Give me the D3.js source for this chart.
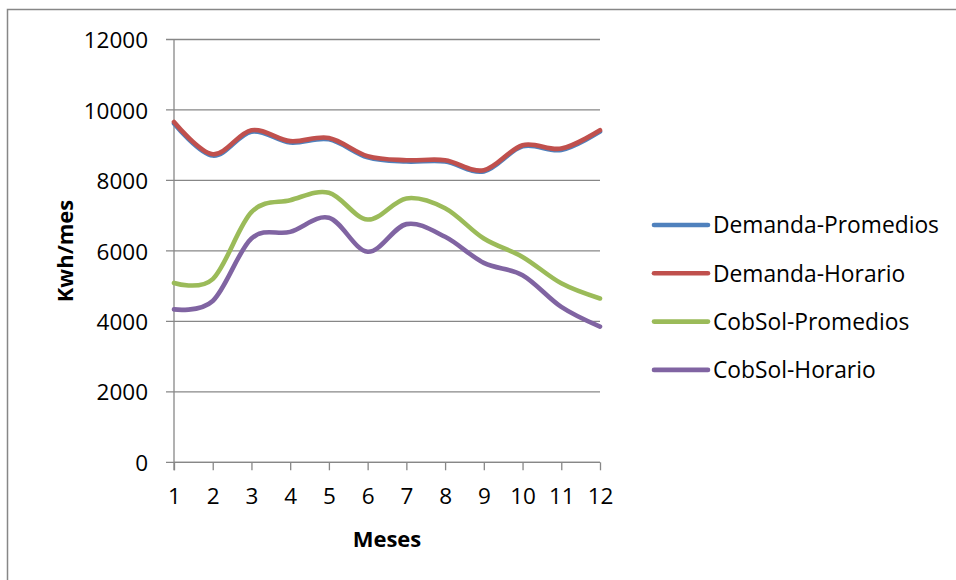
<!DOCTYPE html>
<html>
<head>
<meta charset="utf-8">
<script src="https://cdn.jsdelivr.net/npm/d3@7"></script>
<style>
  html, body { margin: 0; padding: 0; background: #fff; }
  svg { display: block; }
  text { font-family: "Open Sans", "Noto Sans", sans-serif; fill: #000; }
</style>
</head>
<body>
<svg id="chart" width="956" height="580"></svg>
<script>
// Monthly energy (kWh/month): demand vs. solar coverage
const months = [1, 2, 3, 4, 5, 6, 7, 8, 9, 10, 11, 12];
const demandaPromedios = [9630, 8720, 9400, 9090, 9180, 8670, 8550, 8550, 8270, 8980, 8880, 9400];
const demandaHorario   = [9660, 8745, 9425, 9115, 9205, 8690, 8575, 8575, 8290, 9000, 8905, 9425];
const cobSolPromedios  = [5090, 5200, 7100, 7440, 7650, 6890, 7490, 7210, 6350, 5830, 5080, 4650];
const cobSolHorario    = [4340, 4580, 6350, 6540, 6940, 5975, 6760, 6400, 5660, 5310, 4410, 3850];
const yTicks = [0, 2000, 4000, 6000, 8000, 10000, 12000];

const seriesNames  = ["Demanda-Promedios", "Demanda-Horario", "CobSol-Promedios", "CobSol-Horario"];
const seriesValues = [demandaPromedios, demandaHorario, cobSolPromedios, cobSolHorario];
const seriesColors = ["#4F81BD", "#C0504D", "#9BBB59", "#8064A2"];
const seriesShift  = [0.5, 0, 0, 0];   // blue sits a hair under the red line

const svg = d3.select("#chart");
const gridColor = "#878787";

// outer chart frame
svg.append("rect")
  .attr("x", 7.5).attr("y", 9.5)
  .attr("width", 960).attr("height", 590)
  .attr("fill", "none").attr("stroke", gridColor).attr("stroke-width", 1.5);

const plot = { left: 174, right: 600, top: 39.5, bottom: 462.3 };

const x = d3.scaleLinear().domain([1, 12]).range([plot.left, plot.right]);
const y = d3.scaleLinear().domain([0, 12000]).range([plot.bottom, plot.top]);

// horizontal gridlines
svg.append("g").selectAll("line").data(yTicks).join("line")
  .attr("x1", plot.left - 8).attr("x2", plot.right)
  .attr("y1", d => y(d)).attr("y2", d => y(d))
  .attr("stroke", gridColor).attr("stroke-width", 1.3);

// y axis
const yAxis = svg.append("g")
  .attr("transform", `translate(${plot.left},0)`)
  .call(d3.axisLeft(y).tickValues(yTicks).tickSize(0).tickPadding(26).tickFormat(d3.format("d")));
yAxis.select(".domain").attr("stroke", gridColor).attr("stroke-width", 1.3)
  .attr("d", `M0,${plot.top}V${plot.bottom + 8}`);
yAxis.selectAll("text").attr("font-size", 22.5).attr("font-family", "Open Sans")
  .attr("fill", "#000").attr("dy", "0.36em");

// x axis
const xAxis = svg.append("g")
  .attr("transform", `translate(0,${plot.bottom})`)
  .call(d3.axisBottom(x).tickValues(months).tickSize(8).tickPadding(18).tickFormat(d3.format("d")));
xAxis.select(".domain").attr("stroke", gridColor).attr("stroke-width", 1.3)
  .attr("d", `M${plot.left},0H${plot.right}`);
xAxis.selectAll(".tick line").attr("stroke", gridColor).attr("stroke-width", 1.3);
xAxis.selectAll("text").attr("font-size", 22.5).attr("font-family", "Open Sans").attr("fill", "#000");

// axis titles
svg.append("text")
  .attr("x", 387).attr("y", 547)
  .attr("text-anchor", "middle")
  .attr("font-size", 22).attr("font-weight", "bold")
  .text("Meses");

svg.append("text")
  .attr("transform", "translate(73,251) rotate(-90)")
  .attr("text-anchor", "middle")
  .attr("font-size", 22).attr("font-weight", "bold")
  .text("Kwh/mes");

// smoothed series lines
const line = d3.line()
  .x((d, i) => x(months[i]))
  .y(d => y(d))
  .curve(d3.curveCardinal.tension(0));

svg.append("g").selectAll("path").data(seriesValues).join("path")
  .attr("d", d => line(d))
  .attr("transform", (d, i) => `translate(0,${seriesShift[i]})`)
  .attr("fill", "none")
  .attr("stroke", (d, i) => seriesColors[i])
  .attr("stroke-width", 4.6)
  .attr("stroke-linecap", "round")
  .attr("stroke-linejoin", "round");

// legend
const legend = svg.append("g").attr("transform", "translate(654,225)");
const items = legend.selectAll("g").data(seriesNames).join("g")
  .attr("transform", (d, i) => `translate(0,${i * 48.3})`);
items.append("line")
  .attr("x1", 0).attr("x2", 54).attr("y1", 0).attr("y2", 0)
  .attr("stroke", (d, i) => seriesColors[i])
  .attr("stroke-width", 4.6).attr("stroke-linecap", "round");
items.append("text")
  .attr("x", 59).attr("y", 0).attr("dy", "0.36em")
  .attr("font-size", 22.8)
  .text(d => d);
</script>
</body>
</html>
